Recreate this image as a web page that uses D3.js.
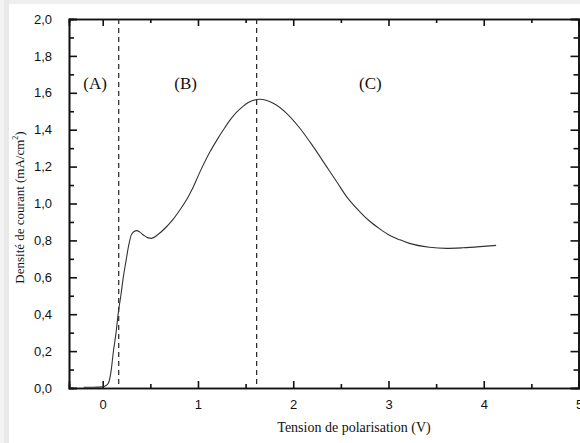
<!DOCTYPE html>
<html>
<head>
<meta charset="utf-8">
<script src="https://cdn.jsdelivr.net/npm/d3@7"></script>
<style>
  html, body { margin: 0; padding: 0; background: #fff; }
  svg { display: block; }
</style>
</head>
<body>
<svg id="chart" width="580" height="443"></svg>
<script>
// Polarisation curve: voltage (V) vs current density (mA/cm²)
const voltage = [-0.20, -0.10, 0.00, 0.03, 0.06, 0.09, 0.11, 0.14, 0.164, 0.19, 0.216, 0.245, 0.27, 0.30, 0.33, 0.357, 0.39, 0.43, 0.47, 0.514, 0.58, 0.67, 0.74, 0.81, 0.88, 0.935, 1.02, 1.126, 1.20, 1.265, 1.34, 1.406, 1.47, 1.528, 1.65, 1.79, 1.93, 2.07, 2.21, 2.35, 2.46, 2.56, 2.70, 2.80, 2.91, 3.01, 3.12, 3.22, 3.43, 3.61, 3.78, 3.96, 4.13];
const density = [0.004, 0.004, 0.006, 0.012, 0.027, 0.10, 0.19, 0.30, 0.41, 0.50, 0.60, 0.69, 0.766, 0.83, 0.848, 0.853, 0.845, 0.828, 0.815, 0.811, 0.832, 0.874, 0.915, 0.965, 1.02, 1.073, 1.17, 1.28, 1.345, 1.398, 1.455, 1.495, 1.525, 1.547, 1.565, 1.543, 1.489, 1.408, 1.308, 1.20, 1.115, 1.037, 0.955, 0.905, 0.862, 0.828, 0.803, 0.784, 0.763, 0.757, 0.760, 0.766, 0.773];

// Region boundaries and labels
const boundaries = [0.168, 1.616];
const regionLabels = ["(A)", "(B)", "(C)"];
const regionLabelX = [-0.08, 0.87, 2.81];
const regionLabelY = 1.64;

// Axis ticks
const xTicks = [0, 1, 2, 3, 4, 5];
const xMinorTicks = [0.5, 1.5, 2.5, 3.5, 4.5];
const yTicks = [0.0, 0.2, 0.4, 0.6, 0.8, 1.0, 1.2, 1.4, 1.6, 1.8, 2.0];
const yMinorTicks = [0.1, 0.3, 0.5, 0.7, 0.9, 1.1, 1.3, 1.5, 1.7, 1.9];

const xTitle = "Tension de polarisation (V)";
const yTitle = "Densité de courant (mA/cm";

const svg = d3.select("#chart");
const W = 580, H = 443;
const margin = { left: 69, top: 19, right: 1, bottom: 55 };
const x0 = margin.left, x1 = W - margin.right;
const y0 = margin.top, y1 = H - margin.bottom;

// page frame strips
svg.append("rect").attr("x", 0).attr("y", 0).attr("width", W).attr("height", 4).attr("fill", "#efefef");
svg.append("rect").attr("x", 0).attr("y", 0).attr("width", 4).attr("height", H).attr("fill", "#f3f3f3");
svg.append("rect").attr("x", 4).attr("y", 0).attr("width", 5).attr("height", H).attr("fill", "#e9e9e9");

const x = d3.scaleLinear().domain([-0.354, 5.0]).range([x0, x1]);
const y = d3.scaleLinear().domain([0, 2]).range([y1, y0]);

const fmt = d => d3.format(".1f")(d).replace(".", ",");

// bottom axis (ticks inward)
const gx = svg.append("g").attr("transform", `translate(0,${y1})`)
  .call(d3.axisBottom(x).tickValues(xTicks).tickSize(-7).tickPadding(12).tickFormat(d3.format("d")));
gx.append("g").call(d3.axisBottom(x).tickValues(xMinorTicks).tickSize(-4).tickFormat(""));

// top axis
const gt = svg.append("g").attr("transform", `translate(0,${y0})`)
  .call(d3.axisTop(x).tickValues(xTicks).tickSize(-7).tickFormat(""));
gt.append("g").call(d3.axisTop(x).tickValues(xMinorTicks).tickSize(-4).tickFormat(""));

// left axis
const gy = svg.append("g").attr("transform", `translate(${x0},0)`)
  .call(d3.axisLeft(y).tickValues(yTicks).tickSize(-8).tickPadding(17).tickFormat(fmt));
gy.append("g").call(d3.axisLeft(y).tickValues(yMinorTicks).tickSize(-5).tickFormat(""));

// right axis
const gr = svg.append("g").attr("transform", `translate(${x1 - 0.5},0)`)
  .call(d3.axisRight(y).tickValues(yTicks).tickSize(-8).tickFormat(""));
gr.append("g").call(d3.axisRight(y).tickValues(yMinorTicks).tickSize(-5).tickFormat(""));

svg.selectAll(".domain").attr("stroke", "#111").attr("stroke-width", 1.6);
svg.selectAll(".tick line").attr("stroke", "#111").attr("stroke-width", 1.6);
svg.selectAll(".tick text")
  .attr("font-family", "'Liberation Sans', Arial, sans-serif")
  .attr("font-size", 13).attr("fill", "#111");

// boundary lines
svg.append("g").selectAll("line").data(boundaries).join("line")
  .attr("x1", d => x(d)).attr("x2", d => x(d))
  .attr("y1", y0).attr("y2", y1)
  .attr("stroke", "#222").attr("stroke-width", 1.2)
  .attr("stroke-dasharray", "5,4");

// current density curve
const line = d3.line().x((d, i) => x(voltage[i])).y(d => y(d)).curve(d3.curveMonotoneX);
svg.append("path")
  .datum(density)
  .attr("d", line)
  .attr("fill", "none")
  .attr("stroke", "#333")
  .attr("stroke-width", 1.1);

// region labels
svg.append("g").selectAll("text").data(regionLabels).join("text")
  .attr("x", (d, i) => x(regionLabelX[i]))
  .attr("y", y(regionLabelY))
  .attr("text-anchor", "middle")
  .attr("dominant-baseline", "middle")
  .attr("font-family", "'Liberation Serif', 'Times New Roman', serif")
  .attr("font-size", 17).attr("fill", "#111")
  .text(d => d);

// axis titles
svg.append("text")
  .attr("x", (x0 + x1) / 2 + 30).attr("y", 432)
  .attr("text-anchor", "middle")
  .attr("font-family", "'Liberation Serif', 'Times New Roman', serif")
  .attr("font-size", 14).attr("fill", "#111")
  .text(xTitle);

const yt = svg.append("text")
  .attr("transform", `translate(24,${(y0 + y1) / 2 + 4}) rotate(-90)`)
  .attr("text-anchor", "middle")
  .attr("font-family", "'Liberation Serif', 'Times New Roman', serif")
  .attr("font-size", 13).attr("fill", "#111");
yt.append("tspan").text(yTitle);
yt.append("tspan").attr("font-size", 8).attr("dy", -6).text("2");
yt.append("tspan").attr("dy", 6).text(")");
</script>
</body>
</html>
